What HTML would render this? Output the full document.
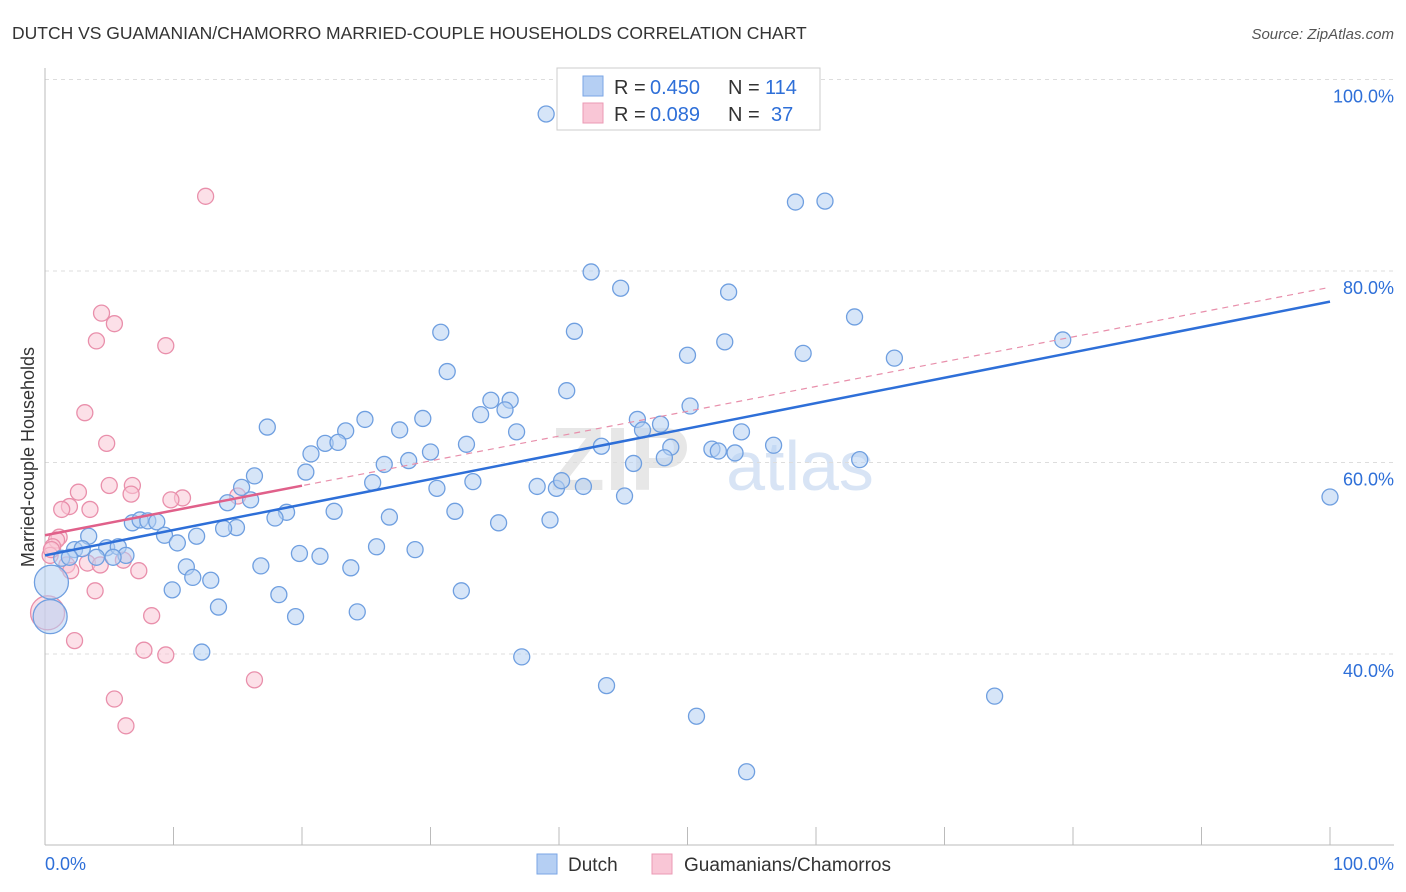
<!DOCTYPE html>
<html><head><meta charset="utf-8"><style>
body{margin:0;background:#fff;font-family:"Liberation Sans",sans-serif;}
svg{display:block}
</style></head><body>
<svg width="1406" height="892" id="chart">
<text x="12" y="39" font-size="17.5" fill="#333">DUTCH VS GUAMANIAN/CHAMORRO MARRIED-COUPLE HOUSEHOLDS CORRELATION CHART</text>
<text x="1394" y="39" font-size="15" fill="#555" font-style="italic" text-anchor="end">Source: ZipAtlas.com</text>
<text transform="translate(34,457) rotate(-90)" font-size="18" fill="#333" text-anchor="middle">Married-couple Households</text>
<text x="620" y="490" font-size="90" fill="#d8d8d8" font-weight="bold" text-anchor="middle" opacity="0.6">ZIP</text>
<text x="800" y="490" font-size="70" fill="#c8daf2" text-anchor="middle" opacity="0.7">atlas</text>
<g id="grid"></g><g id="axes"></g><g id="trend"></g><g id="pts"></g>
<g>
<rect x="557" y="68" width="263" height="62" fill="#fff" stroke="#ccc"/>
<rect x="583" y="76" width="20" height="20" fill="#b5cff3" stroke="#7aa6e6"/>
<rect x="583" y="103" width="20" height="20" fill="#f9c6d6" stroke="#eb9ab4"/>
<g font-size="20" fill="#333">
<text x="614" y="94">R =</text><text x="650" y="94" fill="#2e6fd8">0.450</text><text x="728" y="94">N =</text><text x="765" y="94" fill="#2e6fd8">114</text></g>
<g font-size="20" fill="#333">
<text x="614" y="121">R =</text><text x="650" y="121" fill="#2e6fd8">0.089</text><text x="728" y="121">N =</text><text x="771" y="121" fill="#2e6fd8">37</text></g>
</g>
<g>
<rect x="537" y="854" width="20" height="20" fill="#b5cff3" stroke="#7aa6e6"/>
<text x="568" y="871" font-size="19" fill="#333">Dutch</text>
<rect x="652" y="854" width="20" height="20" fill="#f9c6d6" stroke="#eb9ab4"/>
<text x="684" y="871" font-size="19" fill="#333">Guamanians/Chamorros</text>
</g>
<text x="45" y="870" font-size="18" fill="#2e6fd8">0.0%</text>
<text x="1394" y="870" font-size="18" fill="#2e6fd8" text-anchor="end">100.0%</text>
</svg>
<script>
const yTicks=[100,80,60,40];
const yTickLabels=["100.0%","80.0%","60.0%","40.0%"];
const blueX=[39.0,58.8,58.4,60.7,42.5,44.8,53.2,63.0,41.2,30.8,52.9,79.2,50.0,59.0,66.1,31.3,40.6,34.7,36.2,33.9,35.8,50.2,17.3,24.9,29.4,27.6,23.4,36.7,46.1,47.9,46.5,54.2,21.8,22.8,32.8,43.3,30.0,20.7,48.7,51.9,52.4,53.7,56.7,28.3,26.4,45.8,48.2,63.4,16.3,20.3,25.5,30.5,33.3,38.3,39.8,40.2,41.9,45.1,15.3,16.0,14.2,22.5,31.9,26.8,18.8,17.9,35.3,39.3,6.8,7.4,8.0,8.7,14.9,13.9,9.3,11.8,10.3,3.4,2.3,2.9,4.8,5.7,6.3,4.0,5.3,1.3,1.9,19.8,21.4,25.8,28.8,16.8,11.0,11.5,12.9,23.8,9.9,18.2,32.4,13.5,24.3,19.5,12.2,37.1,43.7,73.9,50.7,54.6,100,0.5,0.4];
const blueY=[96.4,99.9,87.2,87.3,79.9,78.2,77.8,75.2,73.7,73.6,72.6,72.8,71.2,71.4,70.9,69.5,67.5,66.5,66.5,65.0,65.5,65.9,63.7,64.5,64.6,63.4,63.3,63.2,64.5,64.0,63.4,63.2,62.0,62.1,61.9,61.7,61.1,60.9,61.6,61.4,61.2,61.0,61.8,60.2,59.8,59.9,60.5,60.3,58.6,59.0,57.9,57.3,58.0,57.5,57.3,58.1,57.5,56.5,57.4,56.1,55.8,54.9,54.9,54.3,54.8,54.2,53.7,54.0,53.7,54.0,53.9,53.8,53.2,53.1,52.4,52.3,51.6,52.3,50.9,51.0,51.1,51.2,50.3,50.1,50.1,50.0,50.1,50.5,50.2,51.2,50.9,49.2,49.1,48.0,47.7,49.0,46.7,46.2,46.6,44.9,44.4,43.9,40.2,39.7,36.7,35.6,33.5,27.7,56.4,47.5,43.9];
const pinkX=[12.5,4.4,5.4,4.0,9.4,3.1,4.8,2.6,5.0,6.8,6.7,10.7,9.8,15.0,3.5,1.9,1.3,1.1,0.9,0.6,1.7,2.0,3.3,4.3,6.1,7.3,3.9,8.3,2.3,7.7,9.4,16.3,5.4,6.3,0.4,0.2,0.5];
const pinkY=[87.8,75.6,74.5,72.7,72.2,65.2,62.0,56.9,57.6,57.6,56.7,56.3,56.1,56.5,55.1,55.4,55.1,52.2,51.9,51.2,49.3,48.7,49.5,49.3,49.8,48.7,46.6,44.0,41.4,40.4,39.9,37.3,35.3,32.5,50.3,44.3,50.9];
const blueTrend=[50.3,76.8];
const pinkTrend=[52.4,78.3];
const NS="http://www.w3.org/2000/svg";
const sx=v=>45+v*12.85;
const sy=v=>1037-v*9.575;
function mk(t,a,p){const e=document.createElementNS(NS,t);for(const k in a)e.setAttribute(k,a[k]);p.appendChild(e);return e;}
const grid=document.getElementById('grid'),axes=document.getElementById('axes'),tr=document.getElementById('trend'),pts=document.getElementById('pts');
yTicks.forEach((t,i)=>{
 const l=mk('line',{x1:45,x2:1394,y1:sy(t),y2:sy(t),stroke:'#ddd','stroke-dasharray':'4,4'},grid);
 
 
 const tx=mk('text',{x:1394,y:sy(t)+23,'font-size':18,fill:'#2e6fd8','text-anchor':'end'},grid);
 tx.textContent=yTickLabels[i];
 
 
});
const ax=mk('line',{x1:45,x2:45,y1:68,y2:845,stroke:'#bbb'},axes);


const bx=mk('line',{x1:45,x2:1394,y1:845,y2:845,stroke:'#bbb'},axes);


for(let i=0;i<=10;i++){const t=mk('line',{x1:sx(i*10),x2:sx(i*10),y1:827,y2:845,stroke:'#bbb'},axes);
 
 }
function dot(x,y,big,fill,stroke,name){
 const c=mk('circle',{cx:sx(x),cy:sy(y),r:big?17:8,fill:fill,'fill-opacity':0.55,stroke:stroke,'stroke-width':1.3},pts);
 
 
}
pinkX.forEach((x,i)=>dot(x,pinkY[i],i===pinkX.length-2,'#f9c6d6','#e98fab','guam-point'));
blueX.forEach((x,i)=>dot(x,blueY[i],i>=blueX.length-2,'#b5cff3','#6f9fe0','dutch-point'));
const pd=mk('line',{x1:sx(0),y1:sy(pinkTrend[0]),x2:sx(100),y2:sy(pinkTrend[1]),stroke:'#e88fab','stroke-width':1.2,'stroke-dasharray':'6,5'},tr);


const bl=mk('line',{x1:sx(0),y1:sy(blueTrend[0]),x2:sx(100),y2:sy(blueTrend[1]),stroke:'#2e6fd8','stroke-width':2.5},tr);


const ps=mk('line',{x1:sx(0),y1:sy(pinkTrend[0]),x2:sx(20),y2:sy(pinkTrend[0]+(pinkTrend[1]-pinkTrend[0])*0.2),stroke:'#e0608a','stroke-width':2.5},tr);


document.getElementById('chart').appendChild(tr);
</script>
</body></html>
